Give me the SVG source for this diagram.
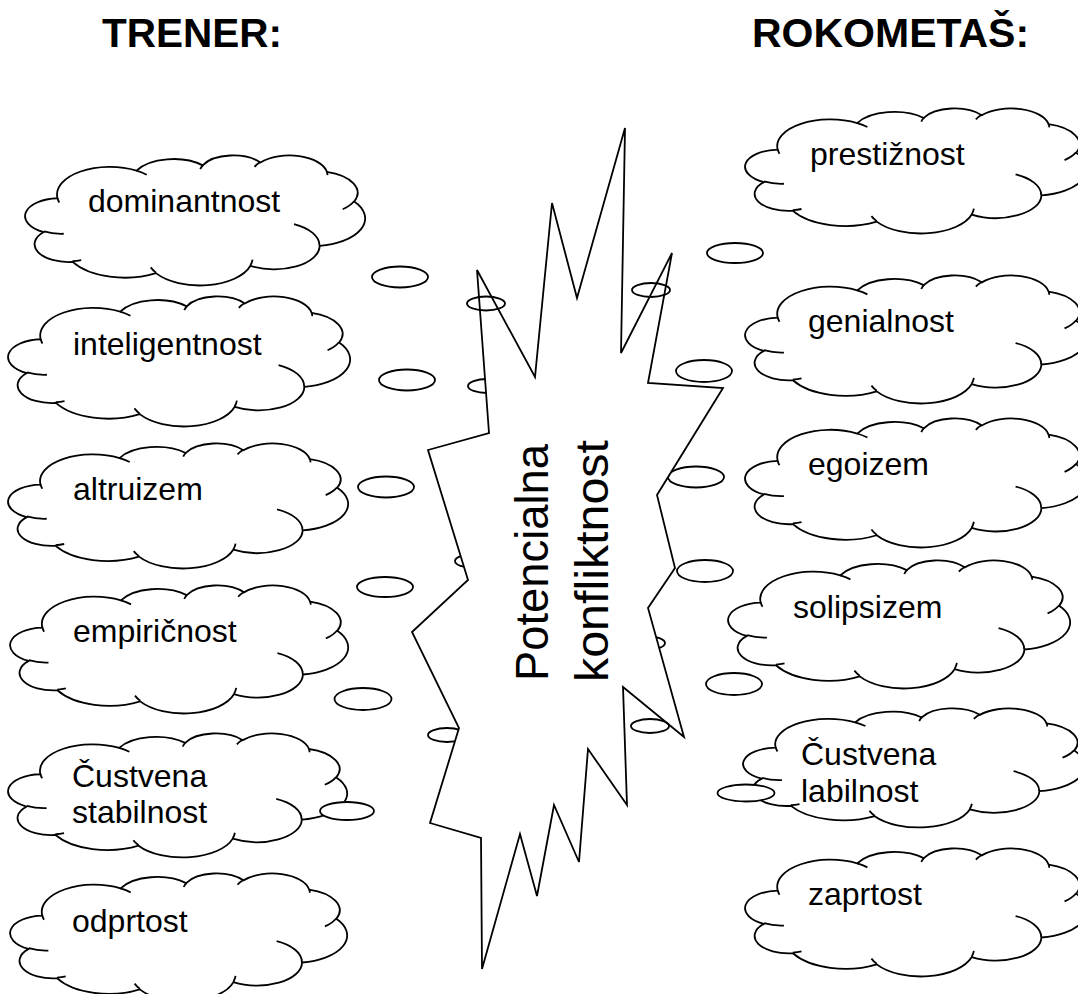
<svg xmlns="http://www.w3.org/2000/svg" xmlns:xlink="http://www.w3.org/1999/xlink" width="1078" height="994" viewBox="0 0 1078 994">
<style>
.ln{fill:none;stroke:#000;stroke-width:1.8;vector-effect:non-scaling-stroke}
.cf{fill:#fff;stroke:#000;stroke-width:1.8;vector-effect:non-scaling-stroke}
.el{fill:#fff;stroke:#000;stroke-width:1.8}
.t{font-family:"Liberation Sans",Arial,sans-serif;font-size:32px;fill:#000}
.h{font-family:"Liberation Sans",Arial,sans-serif;font-size:40.5px;font-weight:bold;fill:#000}
.s{font-family:"Liberation Sans",Arial,sans-serif;font-size:46px;fill:#000}
</style>
<defs>
<g id="cloud">
<path class="cf" d="M39,143.7 A67.53,91.9 0 0 1 140.05,52.02 A53.33,72.67 0 0 1 224.57,34.34 A43.65,59.45 0 0 1 298.35,24.85 A48.57,65.95 0 0 1 383.2,55.8 A53.33,72.73 0 0 1 418.21,154.64 A67.75,92.2 0 0 1 374.04,302.03 A57.85,78.67 0 0 1 285.56,368.13 A67.52,92.15 0 0 1 164.81,392.66 A77.2,105.43 0 0 1 58.34,355.37 A43.6,59.18 0 0 1 21.42,256.17 A43.45,59.45 0 0 1 39,143.7 Z"/>
<path class="ln" d="M46.93,261.77 A43.45,59.45 0 0 1 21.6,253.8 M69.28,348.99 A43.6,59.18 0 0 1 58.19,352.81 M164.78,390.9 A67.52,92.15 0 0 1 158.1,373.48 M288.27,347.51 A67.52,92.15 0 0 1 285.6,366.6 M341.29,229.54 A57.85,78.67 0 0 1 373.8,300.9 M417.98,153.54 A53.33,72.73 0 0 1 403.51,180.29 M383.24,54.26 A48.57,65.95 0 0 1 384,66.9 M290.78,39.52 A48.57,65.95 0 0 1 298.2,23.4 M221.41,47.2 A43.65,59.45 0 0 1 225,33.3 M140,51.92 A67.53,91.9 0 0 1 153.02,65.43 M41.27,157.89 A67.53,91.9 0 0 1 39,143.7"/>
</g>
<clipPath id="clipL"><rect x="0" y="740" width="360" height="85"/></clipPath>
<clipPath id="clipR"><rect x="740" y="715" width="338" height="87"/></clipPath>
</defs>

<g id="titles">
<text class="h" x="102" y="47">TRENER:</text>
<text class="h" x="752" y="47" style="font-size:41px">ROKOMETAŠ:</text>
</g>

<g id="trener-dominantnost">
<use xlink:href="#cloud" href="#cloud" transform="translate(27,155) scale(0.7824,0.3009)"/>
<text class="t" x="88" y="212">dominantnost</text>
</g>
<g id="trener-inteligentnost">
<use xlink:href="#cloud" href="#cloud" transform="translate(10,296) scale(0.787,0.3009)"/>
<text class="t" x="73" y="355">inteligentnost</text>
</g>
<g id="trener-altruizem">
<use xlink:href="#cloud" href="#cloud" transform="translate(10,443) scale(0.7824,0.2894)"/>
<text class="t" x="73" y="500">altruizem</text>
</g>
<g id="trener-empiricnost">
<use xlink:href="#cloud" href="#cloud" transform="translate(12,585) scale(0.7778,0.2963)"/>
<text class="t" x="73" y="642">empiričnost</text>
</g>
<g id="trener-custvena-stabilnost">
<use xlink:href="#cloud" href="#cloud" transform="translate(10,733) scale(0.7801,0.287)"/>
<text class="t" x="72" y="787" clip-path="url(#clipL)">Čustvena<tspan x="72" y="823">stabilnost</tspan></text>
</g>
<g id="trener-odprtost">
<use xlink:href="#cloud" href="#cloud" transform="translate(12,873) scale(0.7755,0.2963)"/>
<text class="t" x="72" y="932">odprtost</text>
</g>

<g id="rokometas-prestiznost">
<use xlink:href="#cloud" href="#cloud" transform="translate(747,108) scale(0.787,0.2894)"/>
<text class="t" x="810" y="165">prestižnost</text>
</g>
<g id="rokometas-genialnost">
<use xlink:href="#cloud" href="#cloud" transform="translate(747,275) scale(0.787,0.2963)"/>
<text class="t" x="808" y="332">genialnost</text>
</g>
<g id="rokometas-egoizem">
<use xlink:href="#cloud" href="#cloud" transform="translate(747,418) scale(0.787,0.2986)"/>
<text class="t" x="808" y="475">egoizem</text>
</g>
<g id="rokometas-solipsizem">
<use xlink:href="#cloud" href="#cloud" transform="translate(730,560) scale(0.787,0.2963)"/>
<text class="t" x="793" y="618">solipsizem</text>
</g>
<g id="rokometas-custvena-labilnost">
<use xlink:href="#cloud" href="#cloud" transform="translate(745,708) scale(0.787,0.2755)"/>
<text class="t" x="801" y="765" clip-path="url(#clipR)">Čustvena<tspan x="801" y="802">labilnost</tspan></text>
</g>
<g id="rokometas-zaprtost">
<use xlink:href="#cloud" href="#cloud" transform="translate(747,848) scale(0.787,0.2963)"/>
<text class="t" x="808" y="905">zaprtost</text>
</g>

<g id="tails-under">
<ellipse class="el" cx="400" cy="277" rx="28" ry="10.5"/>
<ellipse class="el" cx="407" cy="380" rx="28" ry="10.5"/>
<ellipse class="el" cx="386" cy="487" rx="28" ry="10.5"/>
<ellipse class="el" cx="385" cy="587" rx="28" ry="10"/>
<ellipse class="el" cx="363" cy="699" rx="28.5" ry="11"/>
<ellipse class="el" cx="347" cy="811" rx="27" ry="9"/>
<ellipse class="el" cx="487" cy="386" rx="19" ry="7"/>
<ellipse class="el" cx="474" cy="561" rx="19" ry="7"/>
<ellipse class="el" cx="447" cy="735" rx="19" ry="7"/>
<ellipse class="el" cx="735" cy="253" rx="28" ry="10"/>
<ellipse class="el" cx="704" cy="371" rx="28" ry="11"/>
<ellipse class="el" cx="696" cy="477" rx="28" ry="10.5"/>
<ellipse class="el" cx="705" cy="571" rx="28" ry="11"/>
<ellipse class="el" cx="734" cy="684" rx="28" ry="11"/>
<ellipse class="el" cx="746" cy="793" rx="28.5" ry="8.5"/>
<ellipse class="el" cx="646" cy="643" rx="19" ry="7"/>
</g>

<g id="konflikt">
<polygon class="el" points="625,128 621,353 672,253 648,383 723,388 657,495 675,568 648,608 684,737 623,687 627,805 588,749 579,862 554,805 537,896 520,834 482,969 481,838 430,823 459,728 412,632 468,580 428,450 489,433 477,270 535,377 552,203 577,298"/>
<ellipse class="el" cx="486" cy="303.5" rx="19" ry="7" style="fill:none"/>
<ellipse class="el" cx="651" cy="290" rx="19" ry="7" style="fill:none"/>
<ellipse class="el" cx="650" cy="726" rx="19" ry="7" style="fill:none"/>
<text class="s" transform="translate(548,681) rotate(-90)" textLength="237" lengthAdjust="spacingAndGlyphs">Potencialna</text>
<text class="s" transform="translate(608,682) rotate(-90)" textLength="242" lengthAdjust="spacingAndGlyphs">konfliktnost</text>
</g>
</svg>
